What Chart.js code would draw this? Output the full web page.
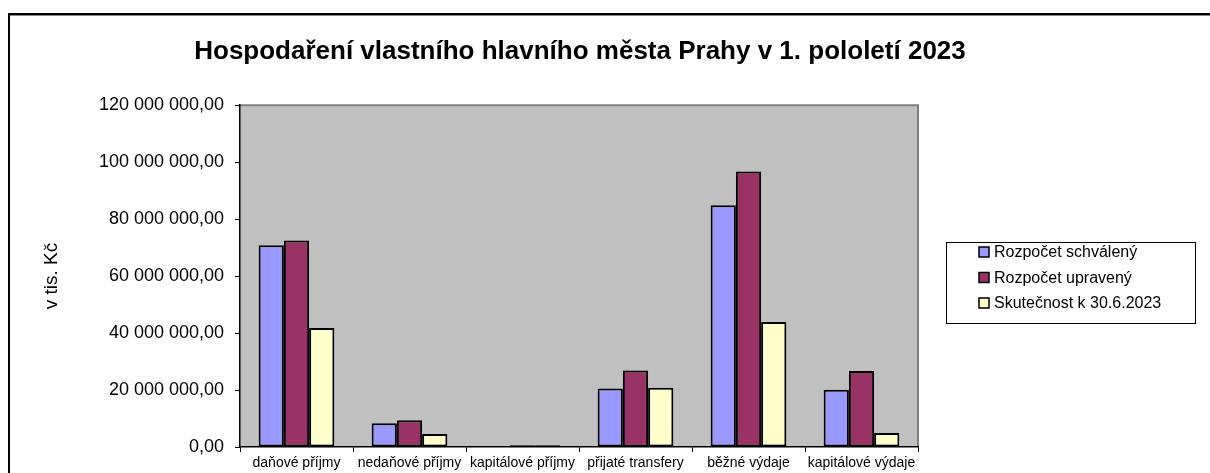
<!DOCTYPE html>
<html><head><meta charset="utf-8">
<script src="https://cdn.jsdelivr.net/npm/chart.js@4.4.1/dist/chart.umd.min.js"></script>
<style>
html,body{margin:0;padding:0;background:#fff;overflow:hidden}
#wrap{position:relative;width:1210px;height:473px}
#frame{position:absolute;left:8px;top:13px;width:1300px;height:600px;border-top:2px solid #000;border-left:2px solid #000}
#frame2{position:absolute;left:10px;top:15px;width:1300px;height:600px;border-top:1px solid #888}
canvas{position:absolute;left:0;top:0}
</style></head><body>
<div id="wrap"><div id="frame"></div><div id="frame2"></div><canvas id="c" width="1210" height="473"></canvas></div>
<script>
const categories = ['daňové příjmy','nedaňové příjmy','kapitálové příjmy','přijaté transfery','běžné výdaje','kapitálové výdaje'];
const seriesNames = ['Rozpočet schválený','Rozpočet upravený','Skutečnost k 30.6.2023'];
const schvaleny = [70800000, 8350000, 0, 20500000, 84900000, 20100000];
const upraveny = [72500000, 9400000, 650000, 26900000, 96700000, 26700000];
const skutecnost = [41800000, 4600000, 600000, 20800000, 43900000, 4900000];
const yTicks = [0, 20000000, 40000000, 60000000, 80000000, 100000000, 120000000];
const yTickLabels = ['0,00','20 000 000,00','40 000 000,00','60 000 000,00','80 000 000,00','100 000 000,00','120 000 000,00'];
const titleText = 'Hospodaření vlastního hlavního města Prahy v 1. pololetí 2023';
const yTitle = 'v tis. Kč';
const colors = ['#9999FF','#993366','#FFFFCC'];

const FONT = '"Liberation Sans", Arial, sans-serif';

const plotBg = {
  id:'plotBg',
  beforeDraw(chart){
    const {ctx, chartArea:a} = chart;
    ctx.save();
    ctx.fillStyle = '#C0C0C0';
    ctx.fillRect(a.left, a.top, a.right-a.left, a.bottom-a.top);
    ctx.strokeStyle = '#808080';
    ctx.lineWidth = 2;
    ctx.beginPath();
    ctx.moveTo(a.left, a.top); ctx.lineTo(a.right, a.top); ctx.lineTo(a.right, a.bottom);
    ctx.stroke();
    ctx.restore();
  }
};

const legendBox = {
  id:'legendBox',
  afterDraw(chart){
    const {ctx, chartArea:a} = chart;
    const x0 = a.right + 28, y0 = 242, w = 249, h = 81;
    ctx.save();
    ctx.strokeStyle = '#000';
    ctx.lineWidth = 1;
    ctx.strokeRect(x0+0.5, y0+0.5, w, h);
    ctx.font = '16px ' + FONT;
    ctx.textBaseline = 'middle';
    chart.data.datasets.forEach((ds, i) => {
      const cy = 252 + i*25.5;
      ctx.fillStyle = ds.backgroundColor;
      ctx.fillRect(x0+33, cy-5, 10, 10);
      ctx.lineWidth = 1.5;
      ctx.strokeStyle = '#000';
      ctx.strokeRect(x0+33, cy-5, 10, 10);
      ctx.fillStyle = '#000';
      ctx.fillText(ds.label, x0+48, cy+1);
    });
    ctx.restore();
  }
};

const mk = (i, data) => ({
  label: seriesNames[i], data, backgroundColor: colors[i],
  borderColor:'#000', borderWidth:2, borderSkipped:false,
  categoryPercentage:0.67, barPercentage:1.0
});

new Chart(document.getElementById('c'), {
  type:'bar',
  data:{ labels: categories, datasets:[mk(0,schvaleny), mk(1,upraveny), mk(2,skutecnost)] },
  options:{
    responsive:false, animation:false,
    layout:{ padding:{ left:0, right:50, top:0, bottom:0 } },
    plugins:{
      legend:{ display:false },
      tooltip:{ enabled:false },
      title:{ display:true, text:titleText, color:'#000',
        font:{ family:FONT, size:26, weight:'bold' },
        padding:{ top:36, bottom:38 } }
    },
    scales:{
      x:{
        grid:{ display:true, drawOnChartArea:false, drawTicks:true, tickLength:5, color:'#000', offset:true },
        border:{ display:true, color:'#000', width:1.5 },
        ticks:{ color:'#000', font:{ family:FONT, size:14 }, padding:3, maxRotation:0, autoSkip:false },
        afterFit(s){ s.height = 26; }
      },
      y:{
        min:0, max:120000000,
        afterBuildTicks(s){ s.ticks = yTicks.map(v => ({value:v})); },
        grid:{ display:true, drawOnChartArea:false, drawTicks:true, tickLength:5, color:'#000' },
        border:{ display:true, color:'#000', width:1.5 },
        ticks:{ color:'#000', font:{ family:FONT, size:18 }, padding:11,
          callback(v){ const k = yTicks.indexOf(v); return k>=0 ? yTickLabels[k] : ''; } },
        title:{ display:true, text:yTitle, color:'#000', font:{ family:FONT, size:19 }, padding:{ top:40, bottom:0 } },
        afterFit(s){ s.width = 240; }
      },
      ySpace:{
        type:'linear', position:'right', display:true, min:0, max:1,
        grid:{ display:false, drawTicks:false }, border:{ display:false },
        ticks:{ display:false },
        afterFit(s){ s.width = 242; }
      }
    }
  },
  plugins:[plotBg, legendBox]
});
</script>
</body></html>
